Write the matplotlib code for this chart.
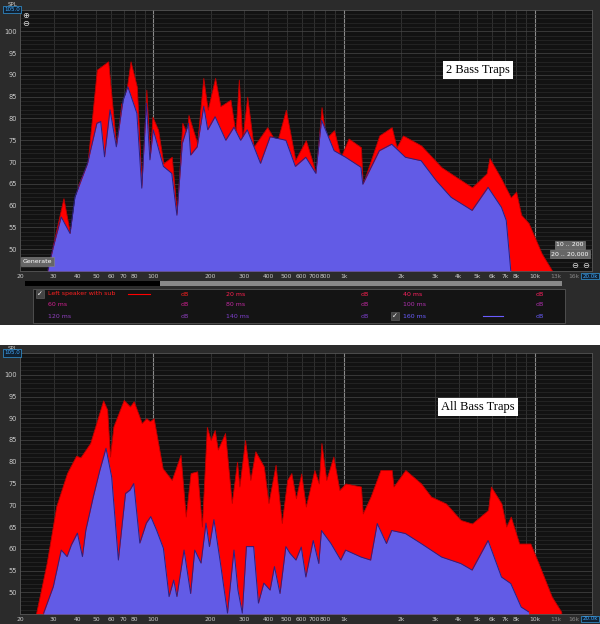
import matplotlib
matplotlib.use("Agg")
import matplotlib.pyplot as plt
from matplotlib.patches import Rectangle

# ---- data (frequency Hz, SPL dB) ----
top_red_f = [28, 29.9, 33.8, 36.6, 40.6, 45.2, 50.6, 58, 64, 68, 70, 76, 82, 87, 92, 96, 99, 106, 113,
             125, 133, 142, 150, 153, 170, 183, 193, 211, 225, 254, 270, 281, 293, 311, 336, 396, 444,
             496, 556, 631, 673, 712, 763, 804, 888, 962, 1058, 1228, 1255, 1533, 1780, 1890, 2040,
             2540, 3250, 3900, 4700, 5600, 5800, 6700, 7500, 8000, 8500, 9300, 10900, 12300]
top_red_db = [45.2, 51.3, 61.7, 53.6, 65, 69.7, 91.2, 93.1, 73.5, 83.5, 82, 93.1, 87.3, 64, 86.6, 71, 80.4,
              77.4, 69.7, 71.2, 58.2, 79, 76.6, 80.8, 74.3, 89.3, 82, 89.3, 82.8, 84.3, 76.6, 88.9, 75,
              85, 73.5, 78, 74.3, 82, 70.5, 75, 71.1, 67.4, 82.6, 75.4, 77.3, 71.1, 75.4, 73.4, 64.9,
              76.1, 78, 73.4, 76.1, 73.8, 68.8, 66.5, 64.2, 67.4, 70.9, 66.1, 61.9, 63.2, 57.9, 56, 49, 45.2]

top_blue_f = [28, 29.9, 32.9, 36.6, 38.8, 45.2, 50.6, 53, 55.5, 59.3, 64, 69.5, 73.5, 82, 87, 92, 96, 100,
              113, 125, 133, 142, 153, 157, 170, 184, 193, 211, 240, 265, 287, 311, 365, 410, 496, 556,
              631, 712, 763, 888, 1020, 1228, 1255, 1533, 1780, 2100, 2540, 3050, 3650, 4700, 5700,
              6700, 7100, 7500]
top_blue_db = [45.2, 50.5, 57.4, 53.6, 62, 69.7, 78.9, 79.3, 71.2, 82, 73.5, 84.3, 87.3, 81.2, 64, 83.5,
               70.5, 77.4, 69, 67.4, 57.8, 74.3, 78.9, 71.6, 73.5, 82.8, 77.4, 80.4, 75, 78, 75, 77.4,
               69.7, 75.8, 75, 69, 71.1, 67.4, 79.6, 72.6, 71.1, 68.8, 64.9, 72.6, 74.1, 71.1, 70.3,
               65.7, 61.9, 58.9, 64.2, 59.6, 56.6, 45]

bot_red_f = [24.3, 27.6, 31, 35.3, 39.4, 41.5, 46.7, 54.6, 57.3, 59.3, 61.8, 70, 75.5, 79, 87, 92, 96,
             100.5, 112, 125, 139, 148, 157, 170, 180, 191, 200, 210, 218, 238, 258, 275, 283, 303, 323,
             343, 380, 402, 438, 472, 504, 530, 560, 597, 631, 700, 738, 762, 808, 880, 947, 1020, 1228,
             1255, 1380, 1555, 1780, 1820, 2100, 2540, 2860, 3430, 4100, 4700, 5700, 5900, 6700, 7100,
             7500, 8300, 9500, 10500, 12300, 13800]
bot_red_db = [45.2, 56.7, 69.8, 77.4, 81.4, 81, 84.3, 94.1, 92, 81.2, 88.1, 94.2, 92.7, 93.9, 88.9, 90,
              89.3, 90, 78.5, 75.8, 81.6, 67.4, 77.4, 77.8, 65.1, 88, 85, 87.3, 82.8, 86.6, 70.5, 80,
              74.3, 85, 75.8, 82.4, 78.9, 70.5, 79.3, 65.9, 75.8, 77.4, 71.6, 77.3, 69.7, 78.1, 75,
              84.3, 75.8, 81.2, 73.5, 75, 74.3, 68.1, 72, 78.1, 78.1, 74.3, 78.1, 75, 72, 70.4, 66.6,
              65.8, 68.9, 74.3, 70.4, 65.1, 67.4, 61.2, 61.2, 56.6, 49, 45.5]

bot_blue_f = [26.6, 29.9, 32.9, 35.3, 37.2, 40, 42.5, 44.3, 48.5, 52.5, 56.5, 60.5, 65.6, 71.5, 75.5, 79,
              85, 92, 97, 104, 113, 121, 128, 133, 145, 157, 165, 178, 189, 197, 208, 225, 245, 265, 278,
              293, 308, 336, 356, 380, 410, 432, 462, 496, 520, 560, 597, 631, 690, 738, 762, 855, 962,
              1020, 1228, 1380, 1495, 1670, 1780, 2100, 2540, 3250, 4100, 4700, 5700, 6700, 7500, 8500, 9300]
bot_blue_db = [45.2, 51.3, 59.7, 58.2, 60.9, 63.6, 58.2, 64.3, 72, 78.1, 83.1, 76.5, 57.4, 72.7, 73.5, 75,
               61.3, 65.9, 67.4, 64.3, 60.1, 49, 52.8, 49, 59.7, 49.7, 59.7, 56.7, 65.9, 60.5, 66.7, 56.7,
               45.2, 59.7, 50.5, 45.2, 60.5, 60.5, 47.5, 52.1, 50.5, 55.9, 49.7, 60.5, 59, 57.4, 60.4,
               53.5, 61.9, 56.6, 64.2, 61.2, 57.4, 59.7, 58.1, 57.4, 65.8, 61.2, 64.2, 63.5, 61.2, 58.1,
               56.6, 55.1, 61.9, 53.5, 52, 46.6, 45.5]

xticks = [20, 30, 40, 50, 60, 70, 80, 100, 200, 300, 400, 500, 600, 700, 800, 1000,
          2000, 3000, 4000, 5000, 6000, 7000, 8000, 10000, 13000, 16000]
xlabels = ["20", "30", "40", "50", "60", "70", "80", "100", "200", "300", "400", "500", "600", "700",
           "800", "1k", "2k", "3k", "4k", "5k", "6k", "7k", "8k", "10k", "13k", "16k"]
yticks = [50, 55, 60, 65, 70, 75, 80, 85, 90, 95, 100]

legend_rows = [["Left speaker with sub", "20 ms", "40 ms"],
               ["60 ms", "80 ms", "100 ms"],
               ["120 ms", "140 ms", "160 ms"]]
legend_cols = [["#ff2020", "#ff2050", "#ff2060"],
               ["#d02090", "#c02aa0", "#b030b0"],
               ["#9040c0", "#8040d0", "#6a5cff"]]

W, H = 600, 624
RED = "#ff0000"
BLUE = "#625be6"
fig = plt.figure(figsize=(6, 6.24), dpi=100, facecolor="white")


def px(x, y):
    return x / W, 1 - y / H


def panel(top, bottom, rf, rdb, bf, bdb, title, title_y):
    ax = fig.add_axes([20 / W, 1 - bottom / H, 572 / W, (bottom - top) / H])
    ax.set_facecolor("#121212")
    ax.set_xscale("log")
    ax.set_xlim(20, 20000)
    ax.set_ylim(45, 105)
    # grid
    minor_f = [f * m for f in (10, 100, 1000, 10000) for m in range(1, 10)]
    for f in minor_f:
        if 20 <= f <= 20000:
            ax.axvline(f, color="#3c3c3c", lw=0.5, zorder=0)
    for f in (100, 1000, 10000):
        ax.axvline(f, color="#8a8a8a", lw=0.8, zorder=0)
    for d in range(46, 105):
        ax.axhline(d, color="#2a2a2a" if d % 5 else "#484848", lw=0.5, zorder=0)
    ax.fill_between(rf, 45, rdb, color=RED, lw=0.6, edgecolor="#c00000", zorder=2)
    ax.fill_between(bf, 45, bdb, color=BLUE, lw=0, zorder=3)
    ax.plot(bf, bdb, color="#2a2080", lw=0.7, zorder=4)
    ax.set_xticks(xticks)
    ax.set_xticklabels(xlabels)
    ax.set_xticks([], minor=True)
    ax.set_yticks(yticks)
    ax.tick_params(axis="both", length=0, labelsize=4.8, colors="#cccccc", pad=2)
    ax.tick_params(axis="x", labelsize=4.3)
    for lab in ax.get_xticklabels()[-2:]:
        lab.set_color("#888888")
    for s in ax.spines.values():
        s.set_color("#555555")
        s.set_linewidth(0.6)
    ax.text(458 / 572, 1 - (title_y - top) / (bottom - top), title, transform=ax.transAxes,
            family=["Liberation Serif", "DejaVu Serif"], fontsize=9, color="black",
            ha="center", va="center", zorder=6,
            bbox=dict(facecolor="white", edgecolor="none", pad=2))
    fig.text(*px(13, top - 5), "SPL", fontsize=4, color="#cccccc", ha="center", va="center")
    fig.text(*px(12, top), "105.0", fontsize=4, color="#44aaff", ha="center", va="center",
             bbox=dict(facecolor="#102030", edgecolor="#3399dd", pad=0.8, lw=0.5))
    fig.text(*px(590, bottom + 5), "20.0k", fontsize=4, color="#44aaff", ha="center", va="center",
             bbox=dict(facecolor="#102030", edgecolor="#3399dd", pad=0.6, lw=0.5))
    return ax


# panel backgrounds
fig.patches.append(Rectangle(px(0, 325), 1, 325 / H, transform=fig.transFigure,
                             facecolor="#2b2b2b", edgecolor="none", zorder=-2))
fig.patches.append(Rectangle(px(0, 624), 1, (624 - 345) / H, transform=fig.transFigure,
                             facecolor="#2b2b2b", edgecolor="none", zorder=-2))

ax1 = panel(9.5, 271, top_red_f, top_red_db, top_blue_f, top_blue_db, "2 Bass Traps", 70)
ax2 = panel(353, 614, bot_red_f, bot_red_db, bot_blue_f, bot_blue_db, "All Bass Traps", 407)

# UI bits on top panel
ax1.text(0.005, 0.03, "Generate", transform=ax1.transAxes, fontsize=4.5, color="white",
         bbox=dict(facecolor="#666666", edgecolor="#888888", pad=1.2, lw=0.4), zorder=7)
for lab, yy in (("10 .. 200", 245), ("20 .. 20,000", 254)):
    fig.text(*px(570, yy), lab, fontsize=4.5, color="white", ha="center", va="center",
             bbox=dict(facecolor="#666666", edgecolor="#888888", pad=1.0, lw=0.4), zorder=7)
for xx in (575, 586):
    fig.text(*px(xx, 265), "\u2296", fontsize=6, color="#dddddd", ha="center", va="center")
fig.text(*px(26, 15), "\u2295", fontsize=6, color="#dddddd", ha="center", va="center")
fig.text(*px(26, 24), "\u2296", fontsize=6, color="#dddddd", ha="center", va="center")

# scrollbar
fig.patches.append(Rectangle(px(25, 286), 262 / W, 5 / H, transform=fig.transFigure,
                             facecolor="black", edgecolor="none"))
fig.patches.append(Rectangle(px(160, 286), 402 / W, 5 / H, transform=fig.transFigure,
                             facecolor="#888888", edgecolor="none"))

# legend box
fig.patches.append(Rectangle(px(33, 323), 532 / W, 34 / H, transform=fig.transFigure,
                             facecolor="#141414", edgecolor="#555555", lw=0.6))
col_x = [40, 218, 395]
dB_x = [185, 365, 540]
for r, row in enumerate(legend_rows):
    yy = 294 + r * 11
    for c, name in enumerate(row):
        checked = (r == 0 and c == 0) or (r == 2 and c == 2)
        fig.text(*px(col_x[c], yy), "\u2713" if checked else "", fontsize=5, color="white",
                 ha="center", va="center",
                 bbox=dict(facecolor="#444444", edgecolor="#666666", pad=0.8, lw=0.4))
        fig.text(*px(col_x[c] + 8, yy), name, fontsize=4.5, color=legend_cols[r][c], va="center")
        fig.text(*px(dB_x[c], yy), "dB", fontsize=4.5, color=legend_cols[r][c], ha="center", va="center")
fig.lines.append(plt.Line2D([128 / W, 150 / W], [1 - 294 / H] * 2, transform=fig.transFigure,
                            color=RED, lw=0.8))
fig.lines.append(plt.Line2D([483 / W, 503 / W], [1 - 316 / H] * 2, transform=fig.transFigure,
                            color="#6a5cff", lw=0.8))

fig.savefig("out.png", dpi=100, facecolor="white")
